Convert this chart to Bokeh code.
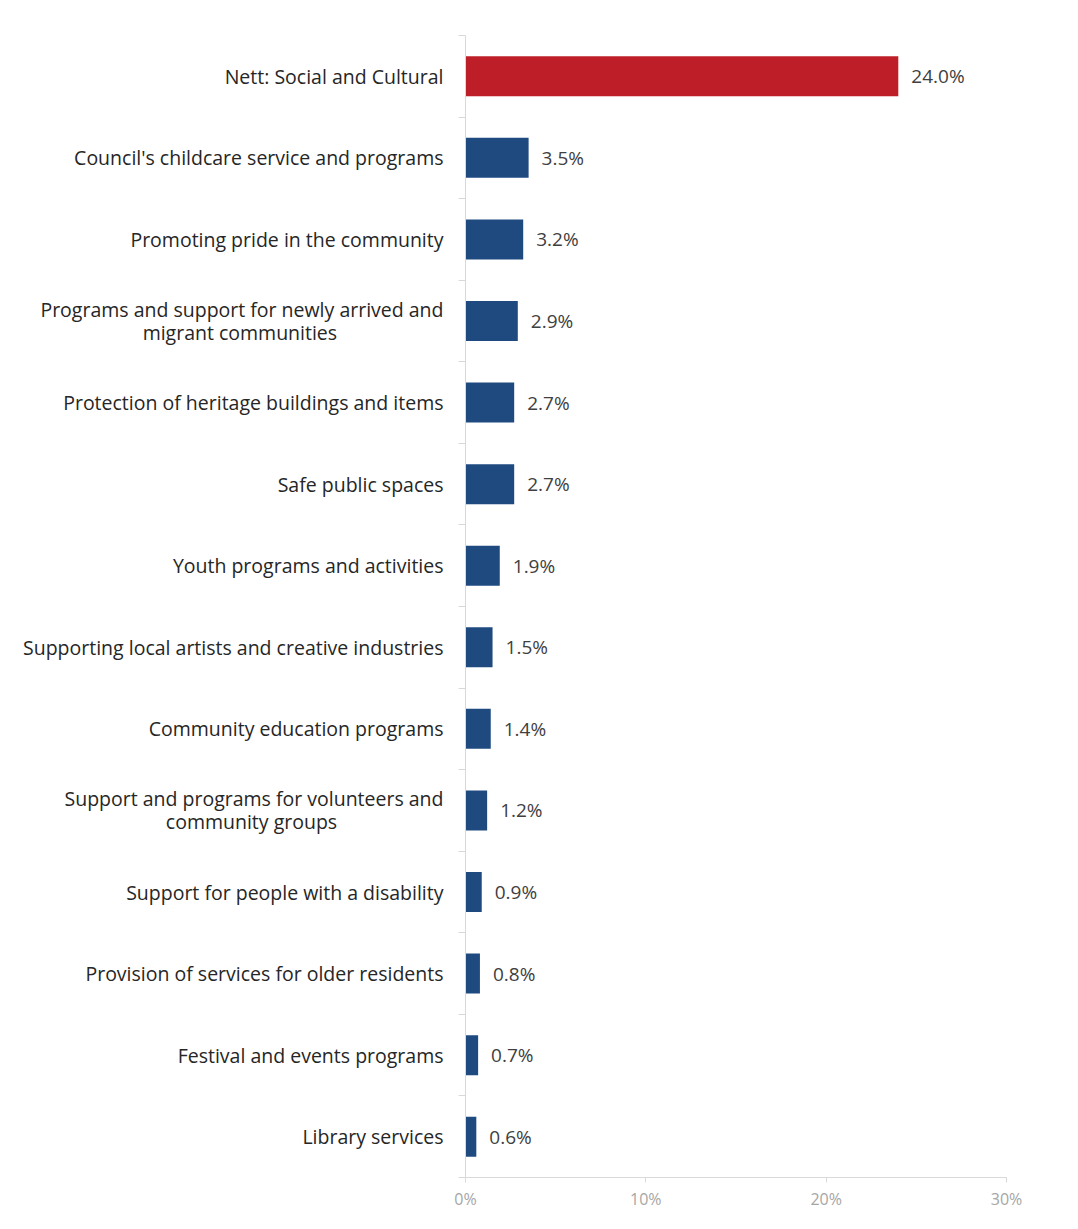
from bokeh.plotting import figure
from bokeh.models import FixedTicker, Range1d, ColumnDataSource
from bokeh.core.properties import value
from bokeh.embed import file_html
from bokeh.resources import INLINE

categories = [
    "Nett: Social and Cultural",
    "Council's childcare service and programs",
    "Promoting pride in the community",
    "Programs and support for newly arrived and\nmigrant communities",
    "Protection of heritage buildings and items",
    "Safe public spaces",
    "Youth programs and activities",
    "Supporting local artists and creative industries",
    "Community education programs",
    "Support and programs for volunteers and\ncommunity groups",
    "Support for people with a disability",
    "Provision of services for older residents",
    "Festival and events programs",
    "Library services",
]
values = [24.0, 3.5, 3.2, 2.9, 2.7, 2.7, 1.9, 1.5, 1.4, 1.2, 0.9, 0.8, 0.7, 0.6]
x_ticks = [0, 10, 20, 30]
x_tick_labels = ["0%", "10%", "20%", "30%"]

RED = "#BE1E27"
BLUE = "#1E4A80"
FONT = "Open Sans"
LABEL_SIZE = "19.5px"

n = len(categories)
ypos = [n - 1 - i for i in range(n)]
colors = [RED] + [BLUE] * (n - 1)
labels = ["%.1f%%" % v for v in values]

# visually centre the second line of two-line labels (axis labels are right-aligned)
pad = {3: 21, 9: 21}
axis_labels = []
for i, c in enumerate(categories):
    if "\n" in c and i in pad:
        a, b = c.split("\n")
        c = a + "\n" + b + "\u00a0" * pad[i]
    axis_labels.append(c)

src = ColumnDataSource(dict(y=ypos, v=values, c=colors, lab=labels))

p = figure(
    width=1070, height=1221,
    output_backend="svg", toolbar_location=None,
    x_range=Range1d(0, 30), y_range=Range1d(-0.5, n - 0.5),
    min_border_left=465, min_border_right=64, min_border_top=35, min_border_bottom=44,
)
p.outline_line_color = None
p.grid.grid_line_color = None
p.background_fill_color = "white"
p.border_fill_color = "white"

p.hbar(y="y", left=0, right="v", height=0.49, fill_color="c", line_color=None, source=src)
p.text(x="v", y="y", text="lab", source=src, x_offset=13, text_baseline="middle",
       text_align="left", text_font=value(FONT), text_font_size="19px", text_color="#404040")

# y axis
ya = p.yaxis[0]
ya.ticker = FixedTicker(ticks=ypos, minor_ticks=[k - 0.5 for k in range(n + 1)])
ya.major_label_overrides = {ypos[i]: axis_labels[i] for i in range(n)}
ya.major_tick_line_color = None
ya.minor_tick_line_color = "#D9D9D9"
ya.minor_tick_out = 7
ya.minor_tick_in = 0
ya.axis_line_color = "#D9D9D9"
ya.major_label_standoff = 15
ya.major_label_text_font = FONT
ya.major_label_text_font_size = LABEL_SIZE
ya.major_label_text_color = "#262626"
ya.major_label_text_line_height = 0.85

# x axis
xa = p.xaxis[0]
xa.ticker = FixedTicker(ticks=x_ticks, minor_ticks=[])
xa.major_label_overrides = {x_ticks[i]: x_tick_labels[i] for i in range(len(x_ticks))}
xa.axis_line_color = "#D9D9D9"
xa.major_tick_line_color = "#D9D9D9"
xa.major_tick_out = 5
xa.major_tick_in = 0
xa.minor_tick_line_color = None
xa.major_label_standoff = 5
xa.major_label_text_font = FONT
xa.major_label_text_font_size = "16px"
xa.major_label_text_color = "#A6A6A6"

open("out.html", "w").write(file_html(p, INLINE))
